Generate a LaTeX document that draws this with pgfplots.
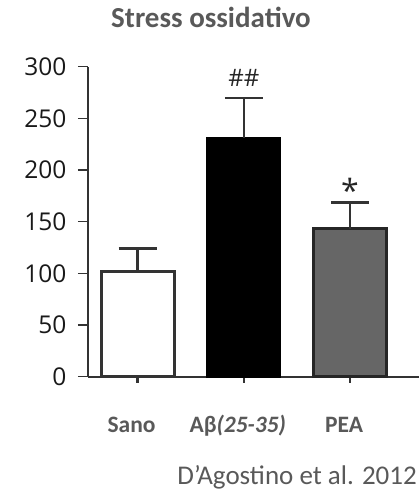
\documentclass[border=0pt]{standalone}
\usepackage{pgfplots}
\pgfplotsset{compat=1.18}
\usepackage{fontspec}
\setmainfont{Carlito}
\newfontfamily\tickfont{Open Sans}
\definecolor{txtgray}{HTML}{595959}
\definecolor{axgray}{HTML}{333333}
\definecolor{peagray}{HTML}{666666}
\begin{document}
\begin{tikzpicture}[x=1pt,y=1pt]
\begin{axis}[
  at={(0,0)}, anchor=south west,
  scale only axis,
  width=331pt, height=310pt,
  xmin=-0.466, xmax=2.649,
  ymin=0, ymax=300,
  axis x line*=bottom, axis y line*=left,
  axis line style={axgray, line width=1.8pt},
  ytick={0,50,100,150,200,250,300},
  xtick={0,1,2},
  xticklabels={Sano, Aβ\textit{(25-35)}, PEA},
  tick align=outside,
  ytick style={axgray, line width=1.5pt},
  xtick style={axgray, line width=2.5pt},
  major tick length=10pt,
  x tick style={/pgfplots/major tick length=6pt},
  /pgf/number format/assume math mode=true,
  yticklabel style={font=\tickfont\fontsize{24.5}{24}\selectfont, color=black!90, xshift=-8pt},
  xticklabel style={font=\bfseries\fontsize{23.5}{24}\selectfont, color=txtgray, anchor=base, yshift=-46pt, xshift=-6pt},
  ybar, bar width=73pt, bar shift=0pt,
  error bars/y dir=plus, error bars/y explicit,
  error bars/error bar style={axgray, line width=2.2pt},
  error bars/error mark options={axgray, line width=2.2pt, mark size=19pt, rotate=90},
  clip=false,
]
\addplot[fill=white, draw=axgray, line width=3pt] coordinates {(0,102) +- (0,22)};
\addplot[fill=black, draw=black, line width=2pt] coordinates {(1,231) +- (0,39)};
\addplot[fill=peagray, draw=black!85, line width=3pt] coordinates {(2,143) +- (0,25.5)};
\node[font=\tickfont\fontsize{24}{24}\selectfont, text=black!85] at (axis cs:1,289) {\#\#};
\node[font=\tickfont\fontsize{32}{32}\selectfont, text=black!85] at (axis cs:2,180) {*};
\end{axis}
\node[anchor=base, font=\bfseries\fontsize{29}{32}\selectfont, text=txtgray] at (123,348.7) {Stress ossidativo};
\node[anchor=base east, inner sep=0pt, font=\fontsize{27}{30}\selectfont, text=txtgray] at (329,-107.3) {D’Agostino et al. 2012};
\pgfresetboundingbox
\path (-88,-113.3) rectangle (331,376.7);
\end{tikzpicture}
\end{document}
